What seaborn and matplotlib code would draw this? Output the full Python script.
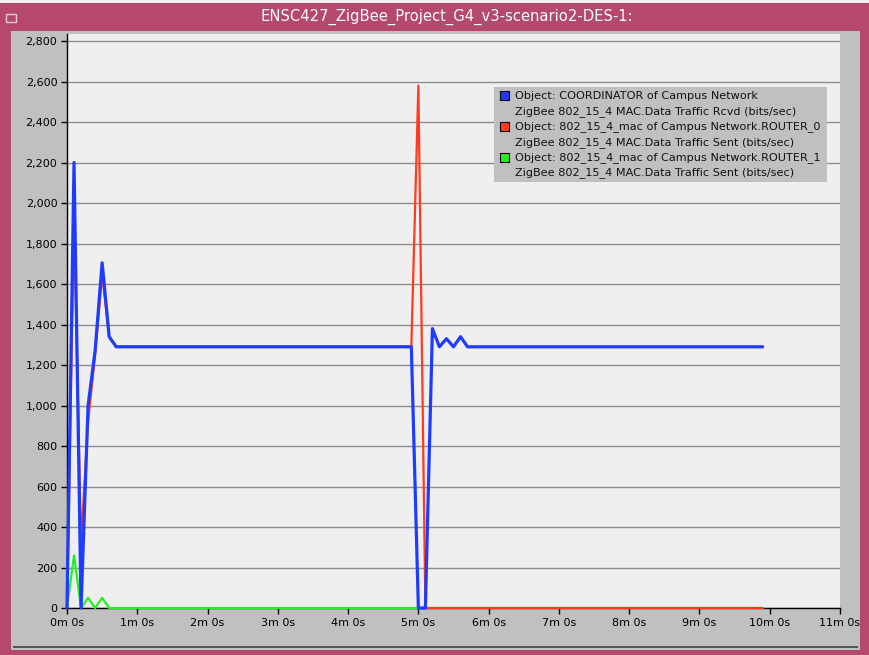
import matplotlib
matplotlib.use("Agg")
import matplotlib.pyplot as plt
from matplotlib.patches import Rectangle
import seaborn as sns
import pandas as pd

# ---------------- data (time in minutes, bits/sec) ----------------
coord_t = [0, 0.1, 0.2, 0.3, 0.4, 0.5, 0.6, 0.7, 4.9, 5.0, 5.1, 5.2, 5.3, 5.4, 5.5, 5.6, 5.7, 9.9]
coord_v = [0, 2200, 0, 1000, 1270, 1705, 1340, 1290, 1290, 0, 0, 1380, 1290, 1330, 1290, 1340, 1290, 1290]

router0_t = [0, 0.1, 0.2, 0.3, 0.4, 0.5, 0.6, 0.7, 4.9, 5.0, 5.1, 9.9]
router0_v = [0, 1930, 320, 920, 1250, 1650, 1340, 1290, 1290, 2580, 0, 0]

router1_t = [0, 0.1, 0.2, 0.3, 0.4, 0.5, 0.6, 9.9]
router1_v = [0, 260, 0, 50, 0, 50, 0, 0]

series_names = [
    "Object: COORDINATOR of Campus Network\nZigBee 802_15_4 MAC.Data Traffic Rcvd (bits/sec)",
    "Object: 802_15_4_mac of Campus Network.ROUTER_0\nZigBee 802_15_4 MAC.Data Traffic Sent (bits/sec)",
    "Object: 802_15_4_mac of Campus Network.ROUTER_1\nZigBee 802_15_4 MAC.Data Traffic Sent (bits/sec)",
]
series_colors = ["#1E3CFF", "#FF3A1E", "#22F022"]

x_ticks = list(range(0, 12))
x_tick_labels = [f"{m}m 0s" for m in x_ticks]
y_ticks = list(range(0, 2801, 200))
y_tick_labels = [f"{v:,}" for v in y_ticks]

title_text = "ENSC427_ZigBee_Project_G4_v3-scenario2-DES-1:"

# ---------------- figure ----------------
W, H = 869, 655
sns.set_style("white")
plt.rcParams["font.family"] = ["DejaVu Sans"]

fig = plt.figure(figsize=(W / 100, H / 100), dpi=100)
fig.patch.set_facecolor("#C0C0C0")

def fx(x):
    return x / W

def fy(y):
    return 1 - y / H

PINK = "#B4486F"
# window frame
fig.patches.append(Rectangle((0, fy(3)), 1, fy(0) - fy(3), transform=fig.transFigure,
                             facecolor="#F4F0F2", edgecolor="none", zorder=0))
fig.patches.append(Rectangle((0, fy(31)), 1, fy(3) - fy(31), transform=fig.transFigure,
                             facecolor=PINK, edgecolor="none", zorder=0))
fig.patches.append(Rectangle((0, 0), fx(11), fy(3), transform=fig.transFigure,
                             facecolor=PINK, edgecolor="none", zorder=0))
fig.patches.append(Rectangle((fx(860), 0), fx(9), fy(3), transform=fig.transFigure,
                             facecolor=PINK, edgecolor="none", zorder=0))
fig.patches.append(Rectangle((0, 0), 1, fy(650), transform=fig.transFigure,
                             facecolor=PINK, edgecolor="none", zorder=0))
fig.patches.append(Rectangle((fx(13), fy(648)), fx(845), fy(646) - fy(648), transform=fig.transFigure,
                             facecolor="#555555", edgecolor="none", zorder=0))
# title icon
fig.patches.append(Rectangle((fx(6), fy(22)), fx(10), fy(14) - fy(22), transform=fig.transFigure,
                             facecolor=PINK, edgecolor="#E8C8D4", linewidth=1, zorder=1))
fig.text(fx(447), fy(17), title_text, color="white", fontsize=10.6, ha="center", va="center",
         fontweight="normal")

ax = fig.add_axes([fx(67), fy(608), fx(840) - fx(67), fy(34) - fy(608)])
ax.set_facecolor("#EFEFEF")

df = pd.concat([
    pd.DataFrame({"t": router1_t, "v": router1_v, "s": series_names[2]}),
    pd.DataFrame({"t": router0_t, "v": router0_v, "s": series_names[1]}),
    pd.DataFrame({"t": coord_t, "v": coord_v, "s": series_names[0]}),
])

widths = {series_names[0]: 2.3, series_names[1]: 1.6, series_names[2]: 1.6}
for k, name in enumerate([series_names[2], series_names[1], series_names[0]]):
    sub = df[df["s"] == name]
    sns.lineplot(data=sub, x="t", y="v", ax=ax, color=series_colors[series_names.index(name)],
                 linewidth=widths[name], legend=False, estimator=None, sort=False,
                 zorder=4 + k, clip_on=False)

ax.set_xlim(0, 11)
ax.set_ylim(0, 2835)
ax.set_xticks(x_ticks)
ax.set_xticklabels(x_tick_labels)
ax.set_yticks(y_ticks)
ax.set_yticklabels(y_tick_labels)
ax.set_xlabel("")
ax.set_ylabel("")
ax.yaxis.grid(True, color="#8E8E8E", linewidth=1.0)
ax.xaxis.grid(False)
ax.set_axisbelow(True)
for sp in ["top", "right"]:
    ax.spines[sp].set_visible(False)
for sp in ["left", "bottom"]:
    ax.spines[sp].set_color("black")
    ax.spines[sp].set_linewidth(1.0)
    ax.spines[sp].set_zorder(2)
ax.tick_params(axis="both", direction="out", length=4, width=1, color="black",
               labelsize=8, labelcolor="black", left=True, bottom=True)
ax.tick_params(axis="y", pad=3)
ax.tick_params(axis="x", pad=3)

# legend box (drawn manually to match original layout)
fig.patches.append(Rectangle((fx(494), fy(182)), fx(827) - fx(494), fy(87) - fy(182),
                             transform=fig.transFigure, facecolor="#C0C0C0",
                             edgecolor="none", zorder=5))
line_y = [95.7, 111.3, 126.7, 142.3, 157.7, 173.0]
for i, name in enumerate(series_names):
    l1, l2 = name.split("\n")
    y1 = line_y[2 * i]
    y2 = line_y[2 * i + 1]
    fig.patches.append(Rectangle((fx(500.5), fy(y1 + 4.5)), fx(9), fy(y1 - 4.5) - fy(y1 + 4.5),
                                 transform=fig.transFigure, facecolor=series_colors[i],
                                 edgecolor="black", linewidth=0.8, zorder=6))
    fig.text(fx(515), fy(y1), l1, fontsize=8.1, ha="left", va="center", color="#111111", zorder=7)
    fig.text(fx(515), fy(y2), l2, fontsize=8.1, ha="left", va="center", color="#111111", zorder=7)

fig.savefig("out.png", dpi=100, facecolor=fig.get_facecolor())
